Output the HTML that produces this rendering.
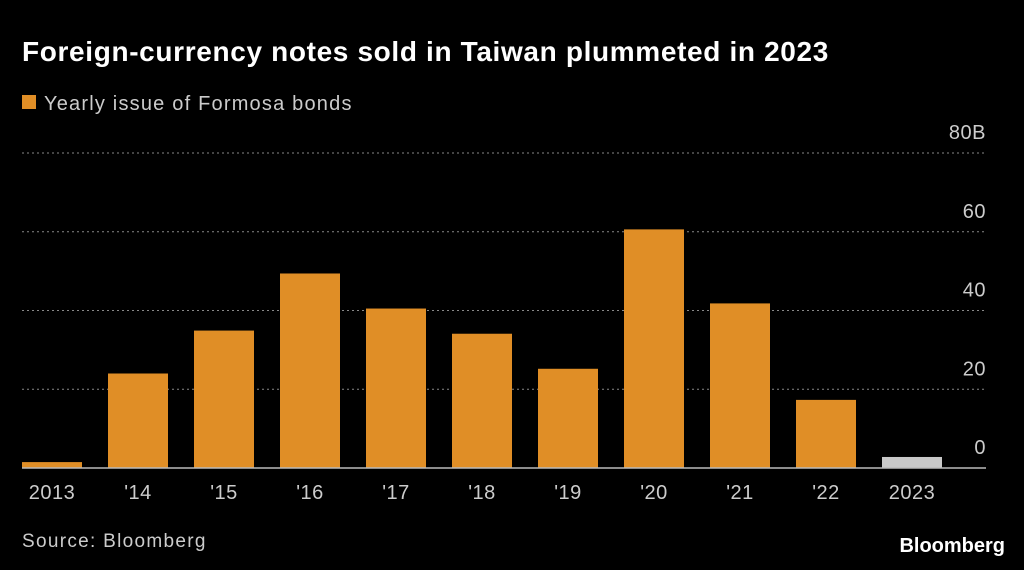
<!DOCTYPE html>
<html><head><meta charset="utf-8"><style>
body{margin:0;background:#000;width:1024px;height:570px;overflow:hidden;font-family:"Liberation Sans",sans-serif;color:#fff}
svg{position:absolute;left:0;top:0}
</style></head><body>
<svg width="1024" height="570">
<text x="22" y="61" font-size="28" font-weight="bold" fill="#fff" letter-spacing="0.65">Foreign-currency notes sold in Taiwan plummeted in 2023</text>
<rect x="22" y="95" width="14" height="14" fill="#e08e26"/>
<text x="44" y="110" font-size="20" fill="#ccc" letter-spacing="1.2">Yearly issue of Formosa bonds</text>
<g id="grid"></g><g id="bars"></g><g id="xl"></g>
<text x="22" y="547" font-size="19" fill="#ccc" letter-spacing="1.3">Source: Bloomberg</text>
<text x="1005" y="552" font-size="20" font-weight="bold" fill="#fff" text-anchor="end">Bloomberg</text>
</svg>
<script>
const categories=["2013","'14","'15","'16","'17","'18","'19","'20","'21","'22","2023"];
const values=[1.5,24,34.9,49.4,40.5,34.1,25.2,60.6,41.8,17.3,2.8];
const ticks=[0,20,40,60,80];
const tickLabels=["0","20","40","60","80B"];
const ns="http://www.w3.org/2000/svg";
const y=v=>468-v*(468-153)/80;
const x=i=>22+i*86;
function mk(t,a,p){const e=document.createElementNS(ns,t);for(const k in a)e.setAttribute(k,a[k]);p.appendChild(e);return e;}
const G=document.getElementById('grid'),B=document.getElementById('bars'),X=document.getElementById('xl');
ticks.forEach((t,i)=>{
 if(t>0){const l=mk('line',{x1:22,x2:986,y1:y(t),y2:y(t),stroke:'#888','stroke-dasharray':'2,3','stroke-width':1},G);
 
 }
 const tx=mk('text',{x:986,y:y(t)-14,'font-size':20,fill:'#ccc','text-anchor':'end','letter-spacing':0.5},G);tx.textContent=tickLabels[i];
 
 
});
values.forEach((v,i)=>{
 const r=mk('rect',{x:x(i),y:y(v),width:60,height:468-y(v),fill:i==values.length-1?'#c8c8c8':'#e08e26'},B);
 
 
 const t=mk('text',{x:x(i)+30,y:499,'font-size':20,fill:'#ccc','text-anchor':'middle','letter-spacing':0.5},X);t.textContent=categories[i];
 
 
});
const b=mk('line',{x1:22,x2:986,y1:468,y2:468,stroke:'#bbb','stroke-width':1.5},B);


</script>
</body></html>
